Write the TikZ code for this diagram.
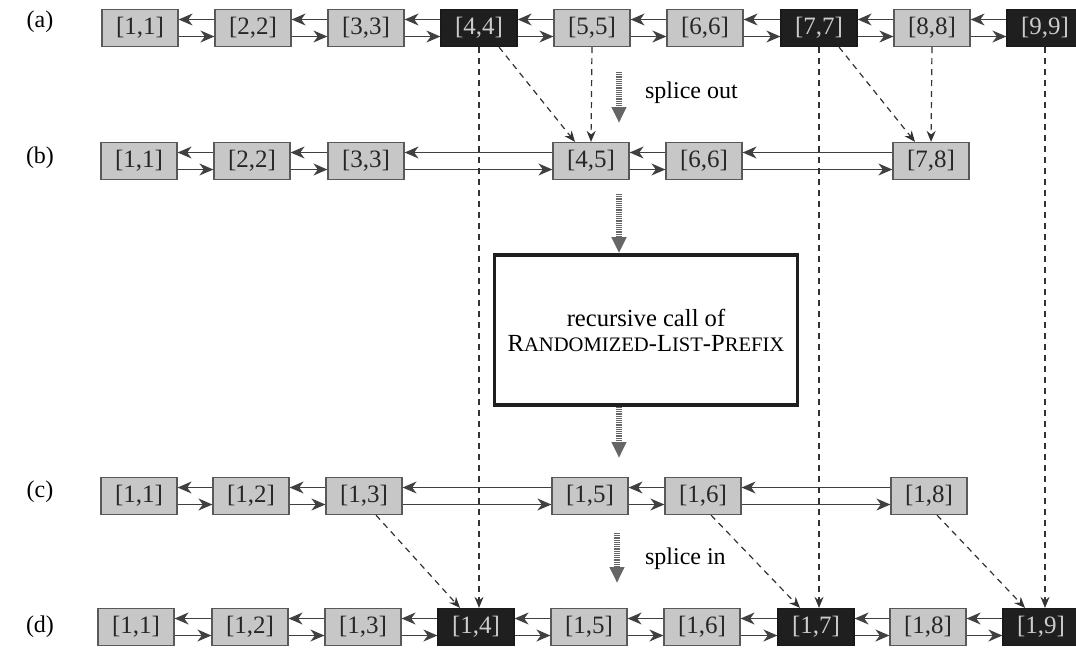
\documentclass[tikz,border=0pt]{standalone}
\usepackage{fontspec}
\setmainfont{Liberation Serif}
\usepackage{tikz}
\usetikzlibrary{arrows.meta}

% fake small caps for the procedure name
\newcommand{\smcaps}[1]{{\fontsize{10.3}{12}\selectfont #1}}

\begin{document}
\begin{tikzpicture}[x=0.5pt, y=-0.5pt,
    tag/.style={font=\fontsize{12}{14}\selectfont},
    lbox/.style={draw=black!65, fill=black!22, line width=0.6pt, minimum width=38pt,
        minimum height=18.5pt, inner sep=0pt, text=black!85, font=\fontsize{12.5}{14}\selectfont},
    dbox/.style={lbox, fill=black!88, draw=black!90, text=black!20},
    recbox/.style={draw=black!88, fill=white, line width=1.8pt, minimum width=151.5pt,
        minimum height=75pt, align=center, font=\fontsize{12.3}{12.5}\selectfont},
    link/.style={-{Stealth[length=7pt,width=6pt,inset=2.2pt]}, draw=black!75, line width=0.7pt},
    fwd/.style={link, to path={([yshift=-4.25pt]\tikztostart.east) -- ([yshift=-4.25pt]\tikztotarget.west)}},
    bwd/.style={link, to path={([yshift=4.25pt]\tikztotarget.west) -- ([yshift=4.25pt]\tikztostart.east)}},
    jump/.style={-{Stealth[length=5.5pt,width=4.5pt]}, draw=black!80, line width=0.6pt, dash pattern=on 3pt off 2.5pt},
    splice/.style={-{Triangle[length=8pt,width=7pt]}, draw=black!60, line width=2.6pt, dash pattern=on 0.55pt off 0.55pt}]

    \clip (0,0) rectangle (1076,649);

    % (a) the list before splicing out
    \node[tag] (la) at (40,22) {(a)};
    \node[lbox] (a1) at (140,28) {[1,1]};
    \node[lbox] (a2) at (253,28) {[2,2]};
    \node[lbox] (a3) at (366,28) {[3,3]};
    \node[dbox] (a4) at (479,28) {[4,4]};
    \node[lbox] (a5) at (592,28) {[5,5]};
    \node[lbox] (a6) at (705,28) {[6,6]};
    \node[dbox] (a7) at (819,28) {[7,7]};
    \node[lbox] (a8) at (932,28) {[8,8]};
    \node[dbox] (a9) at (1045,28) {[9,9]};
    \path (a1) edge[fwd] (a2) edge[bwd] (a2)
          (a2) edge[fwd] (a3) edge[bwd] (a3)
          (a3) edge[fwd] (a4) edge[bwd] (a4)
          (a4) edge[fwd] (a5) edge[bwd] (a5)
          (a5) edge[fwd] (a6) edge[bwd] (a6)
          (a6) edge[fwd] (a7) edge[bwd] (a7)
          (a7) edge[fwd] (a8) edge[bwd] (a8)
          (a8) edge[fwd] (a9) edge[bwd] (a9);

    % (b) after splicing out
    \node[tag] (lb) at (40,158) {(b)};
    \node[lbox] (b1) at (139,161) {[1,1]};
    \node[lbox] (b2) at (252,161) {[2,2]};
    \node[lbox] (b3) at (366,161) {[3,3]};
    \node[lbox] (b4) at (591,161) {[4,5]};
    \node[lbox] (b6) at (704,161) {[6,6]};
    \node[lbox] (b7) at (931,161) {[7,8]};
    \path (b1) edge[fwd] (b2) edge[bwd] (b2)
          (b2) edge[fwd] (b3) edge[bwd] (b3)
          (b3) edge[fwd] (b4) edge[bwd] (b4)
          (b4) edge[fwd] (b6) edge[bwd] (b6)
          (b6) edge[fwd] (b7) edge[bwd] (b7);

    % recursive call
    \node[recbox] (rec) at (646,330) {recursive call of\\R\smcaps{ANDOMIZED}-L\smcaps{IST}-P\smcaps{REFIX}};

    % (c) result of the recursion
    \node[tag] (lc) at (40,492) {(c)};
    \node[lbox] (c1) at (139,496) {[1,1]};
    \node[lbox] (c2) at (251,496) {[1,2]};
    \node[lbox] (c3) at (364,496) {[1,3]};
    \node[lbox] (c5) at (590,496) {[1,5]};
    \node[lbox] (c6) at (703,496) {[1,6]};
    \node[lbox] (c8) at (929,496) {[1,8]};
    \path (c1) edge[fwd] (c2) edge[bwd] (c2)
          (c2) edge[fwd] (c3) edge[bwd] (c3)
          (c3) edge[fwd] (c5) edge[bwd] (c5)
          (c5) edge[fwd] (c6) edge[bwd] (c6)
          (c6) edge[fwd] (c8) edge[bwd] (c8);

    % (d) after splicing in
    \node[tag] (ld) at (40,627) {(d)};
    \node[lbox] (d1) at (136,627) {[1,1]};
    \node[lbox] (d2) at (250,627) {[1,2]};
    \node[lbox] (d3) at (363,627) {[1,3]};
    \node[dbox] (d4) at (476,627) {[1,4]};
    \node[lbox] (d5) at (589,627) {[1,5]};
    \node[lbox] (d6) at (702,627) {[1,6]};
    \node[dbox] (d7) at (816,627) {[1,7]};
    \node[lbox] (d8) at (928,627) {[1,8]};
    \node[dbox] (d9) at (1041,627) {[1,9]};
    \path (d1) edge[fwd] (d2) edge[bwd] (d2)
          (d2) edge[fwd] (d3) edge[bwd] (d3)
          (d3) edge[fwd] (d4) edge[bwd] (d4)
          (d4) edge[fwd] (d5) edge[bwd] (d5)
          (d5) edge[fwd] (d6) edge[bwd] (d6)
          (d6) edge[fwd] (d7) edge[bwd] (d7)
          (d7) edge[fwd] (d8) edge[bwd] (d8)
          (d8) edge[fwd] (d9) edge[bwd] (d9);

    % dashed pointers
    \draw[jump] ([xshift=10pt]a4.south) -- ([xshift=-8pt]b4.north);
    \draw[jump] (a5.south) -- (b4.north);
    \draw[jump] ([xshift=10pt]a7.south) -- ([xshift=-8pt]b7.north);
    \draw[jump] (a8.south) -- (b7.north);
    \draw[jump] (a4.south) -- (a4.south |- d4.north);
    \draw[jump] (a7.south) -- (a7.south |- d7.north);
    \draw[jump] (a9.south) -- (a9.south |- d9.north);
    \draw[jump] ([xshift=6pt]c3.south) -- ([xshift=-8pt]d4.north);
    \draw[jump] ([xshift=4pt]c6.south) -- ([xshift=-8pt]d7.north);
    \draw[jump] ([xshift=4pt]c8.south) -- ([xshift=-8pt]d9.north);

    % splice arrows
    \coordinate (s1) at (619,72);
    \coordinate (s1e) at (619,123);
    \coordinate (s2) at (619,194);
    \coordinate (s3) at (619,458);
    \coordinate (s4) at (617,533);
    \coordinate (s4e) at (617,583);
    \draw[splice] (s1) -- (s1e);
    \draw[splice] (s2) -- (s2 |- rec.north);
    \draw[splice] (s3 |- rec.south) -- (s3);
    \draw[splice] (s4) -- (s4e);
    \node[tag, anchor=west] (tout) at (638,93) {splice out};
    \node[tag, anchor=west] (tin) at (638,559) {splice in};
\end{tikzpicture}
\end{document}
